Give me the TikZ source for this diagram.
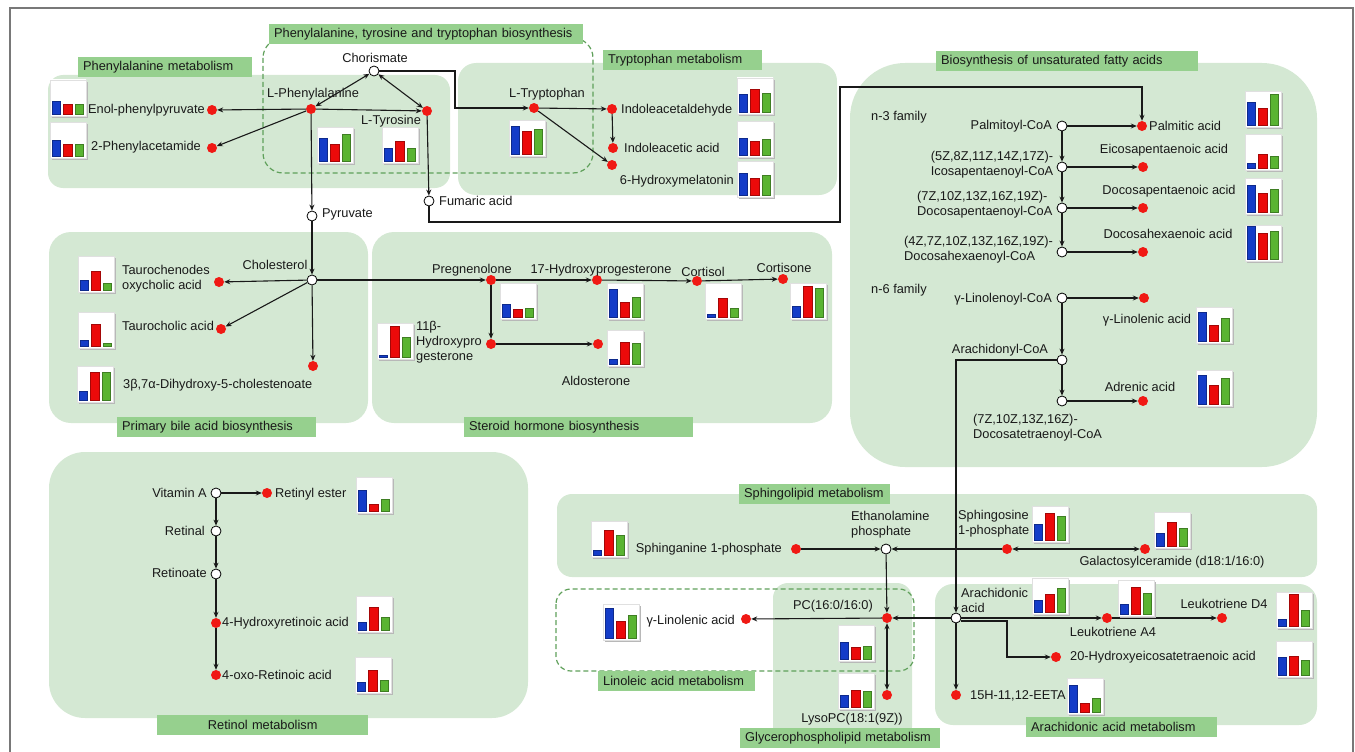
\documentclass[tikz,border=0pt]{standalone}
\usepackage{fontspec}
\setmainfont{Liberation Sans}
\usetikzlibrary{arrows.meta}
\newcommand{\barchart}[5]{%
\fill[black!28] (#1+2,#2+2) rectangle ++(36,36);
\shade[top color=white,middle color=black!16,bottom color=white,draw=black!12] (#1,#2) rectangle ++(36,36);
\fill[barblue,draw=barblue!70!black] (#1+2,#2+34) rectangle ++(8,-#3);
\fill[barred,draw=barred!70!black] (#1+13,#2+34) rectangle ++(9,-#4);
\fill[bargreen,draw=bargreen!70!black] (#1+25,#2+34) rectangle ++(8,-#5);
}
\begin{document}
\begin{tikzpicture}[x=1pt,y=-1pt,
every node/.style={font=\fontsize{12.8}{15}\selectfont,text=inkcolor},
hit/.style={circle,fill=hitred,inner sep=0pt,minimum size=10pt},
mid/.style={circle,draw=black,line width=0.8pt,fill=white,inner sep=0pt,minimum size=10pt},
cpd/.style={inner sep=0pt},
panel/.style={fill=panelgreen,rounded corners=#1},
panel/.default=16pt,
plabel/.style={fill=labelgreen,anchor=north west,inner xsep=5pt,inner ysep=0pt,minimum height=20pt,text width=#1,align=left},
pathway/.style={draw=dashgreen,line width=1.2pt,dash pattern=on 5pt off 3pt,rounded corners=#1},
arr/.style={draw=inkcolor,line width=1.1pt,-{Stealth[length=6pt,width=5pt]}},
darr/.style={draw=inkcolor,line width=1.1pt,{Stealth[length=6pt,width=5pt]}-{Stealth[length=6pt,width=5pt]}}]
\definecolor{panelgreen}{RGB}{212,232,211}
\definecolor{labelgreen}{RGB}{150,208,142}
\definecolor{dashgreen}{RGB}{95,160,90}
\definecolor{hitred}{RGB}{240,25,20}
\definecolor{inkcolor}{RGB}{25,25,25}
\definecolor{framegray}{RGB}{120,120,120}
\definecolor{barblue}{RGB}{20,60,200}
\definecolor{barred}{RGB}{235,10,10}
\definecolor{bargreen}{RGB}{90,180,50}
\useasboundingbox (0,0) rectangle (1355,752);
\draw[framegray,line width=1.2pt] (10,752) -- (10,8) -- (1353,8) -- (1353,752);
\fill[panel=15pt] (48,75) rectangle (450,188);
\fill[panel=18pt] (458,63) rectangle (837,195);
\fill[panel=55pt] (850,63) rectangle (1317,467);
\fill[panel=22pt] (49,232) rectangle (368,423);
\fill[panel=22pt] (372,232) rectangle (832,423);
\fill[panel=36pt] (49,452) rectangle (528,718);
\fill[panel=15pt] (557,494) rectangle (1317,577);
\fill[panel=15pt] (773,583) rectangle (912,742);
\fill[panel=18pt] (935,584) rectangle (1317,725);
\draw[pathway=20pt] (263,38) rectangle (593,173);
\draw[pathway=15pt] (556,589) rectangle (914,671);
\node (lPhe) [plabel=164pt] at (78,57) {Phenylalanine metabolism};
\node (lPtt) [plabel=304pt] at (269,24) {Phenylalanine, tyrosine and tryptophan biosynthesis};
\node (lTrp) [plabel=149pt] at (603,50) {Tryptophan metabolism};
\node (lUfa) [plabel=252pt] at (936,51) {Biosynthesis of unsaturated fatty acids};
\node (lBile) [plabel=189pt] at (117,417) {Primary bile acid biosynthesis};
\node (lSter) [plabel=219pt] at (464,417) {Steroid hormone biosynthesis};
\node (lRet) [plabel=201pt,align=center] at (157,715) {Retinol metabolism};
\node (lSph) [plabel=141pt] at (739,484) {Sphingolipid metabolism};
\node (lGly) [plabel=190pt] at (740,728) {Glycerophospholipid metabolism};
\node (lLin) [plabel=147pt] at (598,671) {Linoleic acid metabolism};
\node (lAra) [plabel=181pt] at (1026,717) {Arachidonic acid metabolism};
\node (enol) [hit] at (212,110) {};
\node (phac) [hit] at (212,148) {};
\node (lphe) [hit] at (311,109) {};
\node (chor) [mid] at (374,71) {};
\node (ltyr) [hit] at (427,111) {};
\node (pyr) [mid] at (312,216) {};
\node (fum) [mid] at (429,201) {};
\node (ltrp) [hit] at (534,108) {};
\node (iald) [hit] at (612,109) {};
\node (iaa) [hit] at (613,148) {};
\node (ohm) [hit] at (612,165) {};
\node (palcoa) [mid] at (1062,126) {};
\node (palm) [hit] at (1142,126) {};
\node (icoa) [mid] at (1062,167) {};
\node (epa) [hit] at (1143,167) {};
\node (dpcoa) [mid] at (1062,208) {};
\node (dpa) [hit] at (1143,208) {};
\node (dhcoa) [mid] at (1062,252) {};
\node (dha) [hit] at (1143,252) {};
\node (glcoa) [mid] at (1062,298) {};
\node (gla) [hit] at (1144,298) {};
\node (aracoa) [mid] at (1062,360) {};
\node (dtcoa) [mid] at (1062,401) {};
\node (adr) [hit] at (1143,401) {};
\node (chol) [mid] at (312,280) {};
\node (tcdca) [hit] at (219,282) {};
\node (tca) [hit] at (221,329) {};
\node (dhc) [hit] at (313,366) {};
\node (preg) [hit] at (491,280) {};
\node (ohp) [hit] at (597,280) {};
\node (cortl) [hit] at (697,281) {};
\node (corte) [hit] at (783,279) {};
\node (hp11) [hit] at (491,344) {};
\node (aldo) [hit] at (598,344) {};
\node (vita) [mid] at (216,493) {};
\node (rest) [hit] at (267,493) {};
\node (retal) [mid] at (216,531) {};
\node (retoate) [mid] at (216,574) {};
\node (hra) [hit] at (216,623) {};
\node (ora) [hit] at (216,675) {};
\node (spha) [hit] at (796,549) {};
\node (etap) [mid] at (886,549) {};
\node (sph) [hit] at (1007,549) {};
\node (gal) [hit] at (1145,549) {};
\node (pc) [hit] at (887,618) {};
\node (glin) [hit] at (746,619) {};
\node (lpc) [hit] at (887,695) {};
\node (arach) [mid] at (956,618) {};
\node (lta4) [hit] at (1107,618) {};
\node (ltd4) [hit] at (1222,618) {};
\node (hete) [hit] at (1056,657) {};
\node (eeta) [hit] at (956,695) {};
\coordinate (k1) at (455,108);
\coordinate (k2) at (840,222);
\coordinate (k3) at (1142,87);
\coordinate (k5) at (1007,657);
\draw[arr] (lphe) -- (enol);
\draw[arr] (lphe) -- (phac);
\draw[darr] (lphe) -- (chor);
\draw[darr] (chor) -- (ltyr);
\draw[arr] (lphe) -- (ltyr);
\draw[arr] (lphe) -- (pyr);
\draw[arr] (ltyr) -- (fum);
\draw[arr] (chor) -| (k1) -- (ltrp);
\draw[arr] (ltrp) -- (iald);
\draw[arr] (iald) -- (iaa);
\draw[arr] (ltrp) -- (ohm);
\draw[arr] (fum) |- (k2) |- (k3) -- (palm);
\draw[arr] (palcoa) -- (palm);
\draw[arr] (palcoa) -- (icoa);
\draw[arr] (icoa) -- (dpcoa);
\draw[arr] (dpcoa) -- (dhcoa);
\draw[arr] (icoa) -- (epa);
\draw[arr] (dpcoa) -- (dpa);
\draw[arr] (dhcoa) -- (dha);
\draw[arr] (glcoa) -- (gla);
\draw[arr] (glcoa) -- (aracoa);
\draw[arr] (aracoa) -- (dtcoa);
\draw[arr] (dtcoa) -- (adr);
\draw[arr] (aracoa) -| (arach);
\draw[arr] (pyr) -- (chol);
\draw[arr] (chol) -- (tcdca);
\draw[arr] (chol) -- (tca);
\draw[arr] (chol) -- (dhc);
\draw[arr] (chol) -- (preg);
\draw[arr] (preg) -- (ohp);
\draw[arr] (ohp) -- (cortl);
\draw[arr] (cortl) -- (corte);
\draw[arr] (preg) -- (hp11);
\draw[arr] (hp11) -- (aldo);
\draw[arr] (vita) -- (rest);
\draw[arr] (vita) -- (retal);
\draw[arr] (retal) -- (retoate);
\draw[arr] (retoate) -- (hra);
\draw[arr] (hra) -- (ora);
\draw[arr] (spha) -- (etap);
\draw[arr] (sph) -- (etap);
\draw[darr] (sph) -- (gal);
\draw[arr] (etap) -- (pc);
\draw[arr] (pc) -- (glin);
\draw[darr] (pc) -- (lpc);
\draw[arr] (arach) -- (pc);
\draw[arr] (arach) -- (lta4);
\draw[arr] (lta4) -- (ltd4);
\draw[arr] ([yshift=-3pt]arach.east) -| (k5) -- (hete);
\draw[arr] (arach) -- (eeta);
\node (tEnol) [cpd,anchor=east] at (205,110) {Enol-phenylpyruvate};
\node (tPhac) [cpd,anchor=east] at (201,147) {2-Phenylacetamide};
\node (tLphe) [cpd] at (313,94) {L-Phenylalanine};
\node (tChor) [cpd] at (375,58) {Chorismate};
\node (tLtyr) [cpd] at (391,121) {L-Tyrosine};
\node (tPyr) [cpd,anchor=west] at (322,214) {Pyruvate};
\node (tFum) [cpd,anchor=west] at (439,201) {Fumaric acid};
\node (tLtrp) [cpd] at (547,94) {L-Tryptophan};
\node (tIald) [cpd,anchor=west] at (621,110) {Indoleacetaldehyde};
\node (tIaa) [cpd,anchor=west] at (624,148) {Indoleacetic acid};
\node (tOhm) [cpd,anchor=east] at (734,181) {6-Hydroxymelatonin};
\node (tN3) [cpd,anchor=west] at (871,117) {n-3 family};
\node (tPalcoa) [cpd,anchor=east] at (1052,126) {Palmitoyl-CoA};
\node (tPalm) [cpd,anchor=west] at (1149,126) {Palmitic acid};
\node (tIcoa) [cpd,align=center] at (992,165) {(5Z,8Z,11Z,14Z,17Z)-\\Icosapentaenoyl-CoA};
\node (tDpcoa) [cpd,anchor=west,align=left] at (917,205) {(7Z,10Z,13Z,16Z,19Z)-\\Docosapentaenoyl-CoA};
\node (tDhcoa) [cpd,anchor=west,align=left] at (904,250) {(4Z,7Z,10Z,13Z,16Z,19Z)-\\Docosahexaenoyl-CoA};
\node (tEpa) [cpd] at (1164,150) {Eicosapentaenoic acid};
\node (tDpa) [cpd] at (1169,191) {Docosapentaenoic acid};
\node (tDha) [cpd] at (1168,234) {Docosahexaenoic acid};
\node (tN6) [cpd,anchor=west] at (871,290) {n-6 family};
\node (tGlcoa) [cpd,anchor=east] at (1052,299) {γ-Linolenoyl-CoA};
\node (tGla) [cpd] at (1147,320) {γ-Linolenic acid};
\node (tAracoa) [cpd] at (1000,350) {Arachidonyl-CoA};
\node (tDtcoa) [cpd,anchor=west,align=left] at (973,428) {(7Z,10Z,13Z,16Z)-\\Docosatetraenoyl-CoA};
\node (tAdr) [cpd] at (1140,387) {Adrenic acid};
\node (tChol) [cpd] at (275,265) {Cholesterol};
\node (tTcdca) [cpd,anchor=west,align=left] at (122,279) {Taurochenodes\\oxycholic acid};
\node (tTca) [cpd,anchor=west] at (122,326) {Taurocholic acid};
\node (tDhc) [cpd,anchor=west] at (123,385) {3β,7α-Dihydroxy-5-cholestenoate};
\node (tPreg) [cpd] at (472,270) {Pregnenolone};
\node (tOhp) [cpd] at (601,270) {17-Hydroxyprogesterone};
\node (tCortl) [cpd] at (703,272) {Cortisol};
\node (tCorte) [cpd] at (784,268) {Cortisone};
\node (tHp11) [cpd,anchor=west,align=left] at (416,342) {11β-\\Hydroxypro\\gesterone};
\node (tAldo) [cpd] at (596,381) {Aldosterone};
\node (tVita) [cpd,anchor=east] at (207,493) {Vitamin A};
\node (tRest) [cpd,anchor=west] at (275,494) {Retinyl ester};
\node (tRetal) [cpd,anchor=east] at (205,531) {Retinal};
\node (tRetoate) [cpd,anchor=east] at (207,573) {Retinoate};
\node (tHra) [cpd,anchor=west] at (222,623) {4-Hydroxyretinoic acid};
\node (tOra) [cpd,anchor=west] at (222,675) {4-oxo-Retinoic acid};
\node (tSpha) [cpd,anchor=east] at (782,549) {Sphinganine 1-phosphate};
\node (tEtap) [cpd,anchor=west,align=left] at (851,525) {Ethanolamine\\phosphate};
\node (tSph) [cpd,anchor=west,align=left] at (958,524) {Sphingosine\\1-phosphate};
\node (tGal) [cpd] at (1172,562) {Galactosylceramide (d18:1/16:0)};
\node (tGlin) [cpd,anchor=east] at (735,621) {γ-Linolenic acid};
\node (tPc) [cpd] at (833,606) {PC(16:0/16:0)};
\node (tLpc) [cpd] at (852,719) {LysoPC(18:1(9Z))};
\node (tArach) [cpd,anchor=west,align=left] at (961,600) {Arachidonic\\acid};
\node (tLta4) [cpd] at (1113,632) {Leukotriene A4};
\node (tLtd4) [cpd] at (1224,604) {Leukotriene D4};
\node (tHete) [cpd,anchor=west] at (1070,657) {20-Hydroxyeicosatetraenoic acid};
\node (tEeta) [cpd,anchor=west] at (970,696) {15H-11,12-EETA};
\barchart{50}{80}{13}{10}{10}
\barchart{50}{122}{16}{12}{12}
\barchart{317}{127}{23}{17}{27}
\barchart{382}{127}{13}{20}{13}
\barchart{509}{120}{28}{23}{25}
\barchart{737}{78}{18}{23}{19}
\barchart{737}{121}{17}{14}{16}
\barchart{737}{161}{22}{17}{20}
\barchart{1245}{91}{23}{17}{31}
\barchart{1245}{134}{5}{14}{12}
\barchart{1245}{178}{27}{19}{23}
\barchart{1245}{225}{33}{26}{28}
\barchart{1196}{307}{29}{16}{23}
\barchart{1196}{370}{29}{19}{26}
\barchart{78}{256}{10}{19}{7}
\barchart{78}{312}{6}{22}{3}
\barchart{77}{366}{9}{28}{28}
\barchart{500}{283}{13}{8}{9}
\barchart{607}{283}{28}{15}{20}
\barchart{705}{283}{3}{19}{9}
\barchart{790}{283}{11}{31}{29}
\barchart{377}{323}{2}{31}{20}
\barchart{607}{330}{5}{22}{21}
\barchart{356}{477}{21}{7}{12}
\barchart{356}{596}{8}{23}{13}
\barchart{355}{657}{9}{21}{11}
\barchart{591}{521}{5}{25}{20}
\barchart{1032}{506}{16}{27}{24}
\barchart{1154}{512}{13}{24}{18}
\barchart{603}{604}{30}{17}{23}
\barchart{838}{625}{17}{12}{13}
\barchart{838}{673}{12}{17}{16}
\barchart{1032}{578}{12}{18}{24}
\barchart{1118}{580}{10}{27}{21}
\barchart{1276}{592}{7}{32}{16}
\barchart{1276}{641}{18}{19}{15}
\barchart{1067}{678}{27}{9}{14}
\end{tikzpicture}
\end{document}
